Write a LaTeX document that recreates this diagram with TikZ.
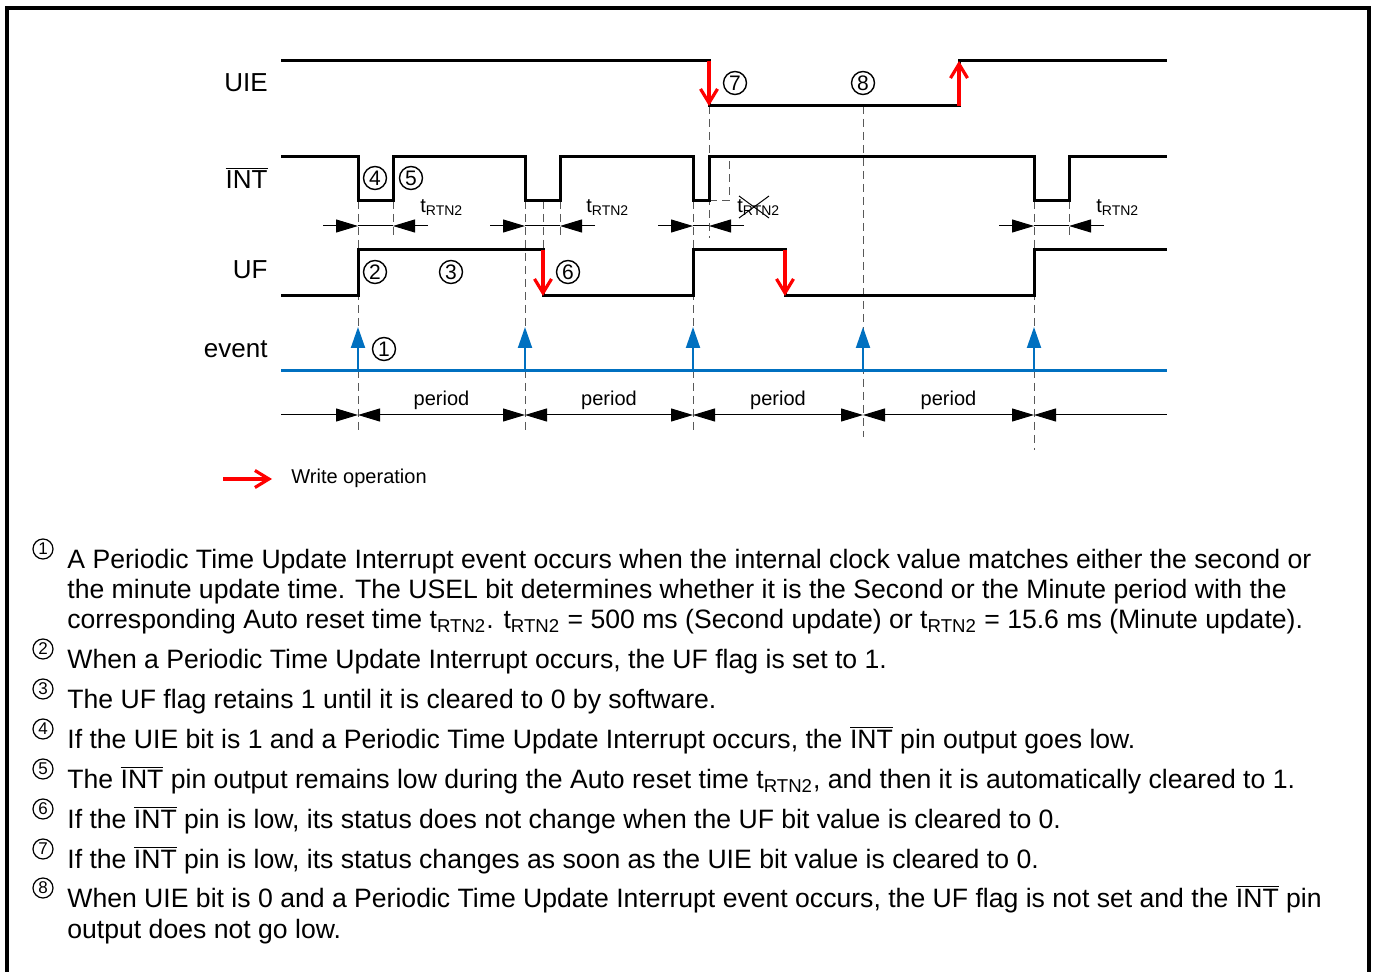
\documentclass[tikz,border=0pt]{standalone}
\usepackage{fontspec}
\setmainfont{Liberation Sans}
\usetikzlibrary{arrows.meta}

\definecolor{evblue}{RGB}{0,112,192}
\newcommand{\intn}{\mbox{$\overline{\mbox{INT}}$}}
\newcommand{\trtn}{t\textsubscript{RTN2}}

\begin{document}
\begin{tikzpicture}[x=0.5pt, y=-0.5pt,
            sig/.style = {line width=1.5pt},
            guide/.style = {black!65, line width=0.5pt, dash pattern=on 4pt off 2.5pt},
            dim/.style = {line width=0.5pt},
            write/.style = {red, line width=1.6pt, -{Straight Barb[length=7pt, width=8.5pt]}},
            event/.style = {evblue, line width=1pt, -{Triangle[length=10.5pt, width=7pt]}},
            lbl/.style = {anchor=east, inner sep=0pt, font=\fontsize{13}{15}\selectfont},
            callout/.style = {circle, draw, line width=0.7pt, inner sep=0pt,
                    minimum size=11.5pt, font=\fontsize{10.5}{10.5}\selectfont},
            numc/.style = {circle, draw, line width=0.6pt, inner sep=0pt,
                    minimum size=10pt, font=\fontsize{8.5}{8.5}\selectfont},
            small/.style = {inner sep=0pt, font=\fontsize{10}{12}\selectfont},
            txt/.style = {anchor=base west, inner sep=0pt, font=\fontsize{13.3}{15}\selectfont},
            >={Triangle[length=11pt, width=6.5pt]}]

        \useasboundingbox (0,0) rectangle (1375,972);
        \draw [line width=2pt] (7,8) rectangle (1369,1000);

        % guide lines
        \foreach \x/\a/\b in {358/201/430, 393/201/238, 525/201/430, 543/201/250,
                560/201/238, 693/201/430, 709/106/238, 863/106/437,
                1034/201/450, 1069/201/238}
            \draw [guide] (\x,\a) -- (\x,\b);
        \draw [guide] (709,201) -| (729,157);

        % signals
        \node [lbl] (uie) at (268,83)  {UIE};
        \node [lbl] (int) at (268,178) {\intn};
        \node [lbl] (uf)  at (268,270) {UF};
        \node [lbl] (ev)  at (268,349) {event};

        \draw [sig] (281,61) -- (709,61) -- (709,106) -- (959,106) -- (959,61) -- (1167,61);
        \draw [sig] (281,157) -| (358,201) -| (393,157) -| (525,201) -| (560,157)
                -| (693,201) -| (709,157) -| (1034,201) -| (1069,157) -- (1167,157);
        \draw [sig] (281,296) -| (358,250) -| (543,296) -| (693,250) -| (785,296)
                -| (1034,250) -- (1167,250);
        \draw [evblue, line width=1.5pt] (281,371) -- (1167,371);
        \foreach \x in {358,525,693,863,1034}
            \draw [event] (\x,371) -- (\x,327);

        % write operations
        \draw [write] (709,61) -- (709,106);
        \draw [write] (959,106) -- (959,61);
        \draw [write] (543,250) -- (543,296);
        \draw [write] (785,250) -- (785,296);

        % auto reset time
        \foreach \a/\b in {358/393, 525/560, 693/709, 1034/1069} {
            \draw [dim, ->] ({\a-35},226) -- (\a,226);
            \draw [dim] (\a,226) -- (\b,226);
            \draw [dim, ->] ({\b+35},226) -- (\b,226);
        }
        \node [small, anchor=base west] (r1) at (420,213)  {\trtn};
        \node [small, anchor=base west] (r2) at (586,213)  {\trtn};
        \node [small, anchor=base west] (r3) at (737,213)  {\trtn};
        \node [small, anchor=base west] (r4) at (1096,213) {\trtn};
        \draw [line width=0.5pt] (739,196) -- (769,218) (739,218) -- (769,196);

        % periods
        \draw [dim, ->] (281,415) -- (358,415);
        \foreach \a/\b [count=\i] in {358/525, 525/693, 693/863, 863/1034} {
            \draw [dim, <->] (\a,415) -- (\b,415);
            \node [small] (p\i) at ({(\a+\b)/2},400) {period};
        }
        \draw [dim, <-] (1034,415) -- (1167,415);

        % callouts
        \node [callout] (c1) at (384,349) {1};
        \node [callout] (c2) at (375,272) {2};
        \node [callout] (c3) at (451,272) {3};
        \node [callout] (c4) at (375,178) {4};
        \node [callout] (c5) at (411,178) {5};
        \node [callout] (c6) at (568,272) {6};
        \node [callout] (c7) at (735,83)  {7};
        \node [callout] (c8) at (863,83)  {8};

        % legend
        \coordinate (w0) at (223,479);
        \node [small, anchor=west] (wr) at (291,478) {Write operation};
        \draw [write] (w0) -- (272,479);

        % notes
        \node [numc] (n1) at (43,549) {1};
        \node [txt] (t1a) at (67,568) {A Periodic Time Update Interrupt event occurs when the internal clock value matches either the second or};
        \node [txt] (t1b) at (67,598) {the minute update time. The USEL bit determines whether it is the Second or the Minute period with the};
        \node [txt] (t1c) at (67,628) {corresponding Auto reset time \trtn. \trtn{} = 500 ms (Second update) or \trtn{} = 15.6 ms (Minute update).};
        \node [numc] (n2) at (43,649) {2};
        \node [txt] (t2) at (67,668) {When a Periodic Time Update Interrupt occurs, the UF flag is set to 1.};
        \node [numc] (n3) at (43,689) {3};
        \node [txt] (t3) at (67,708) {The UF flag retains 1 until it is cleared to 0 by software.};
        \node [numc] (n4) at (43,729) {4};
        \node [txt] (t4) at (67,748) {If the UIE bit is 1 and a Periodic Time Update Interrupt occurs, the \intn{} pin output goes low.};
        \node [numc] (n5) at (43,769) {5};
        \node [txt] (t5) at (67,788) {The \intn{} pin output remains low during the Auto reset time \trtn, and then it is automatically cleared to 1.};
        \node [numc] (n6) at (43,809) {6};
        \node [txt] (t6) at (67,828) {If the \intn{} pin is low, its status does not change when the UF bit value is cleared to 0.};
        \node [numc] (n7) at (43,849) {7};
        \node [txt] (t7) at (67,868) {If the \intn{} pin is low, its status changes as soon as the UIE bit value is cleared to 0.};
        \node [numc] (n8) at (43,888) {8};
        \node [txt] (t8a) at (67,907) {When UIE bit is 0 and a Periodic Time Update Interrupt event occurs, the UF flag is not set and the \intn{} pin};
        \node [txt] (t8b) at (67,938) {output does not go low.};
    \end{tikzpicture}
\end{document}
